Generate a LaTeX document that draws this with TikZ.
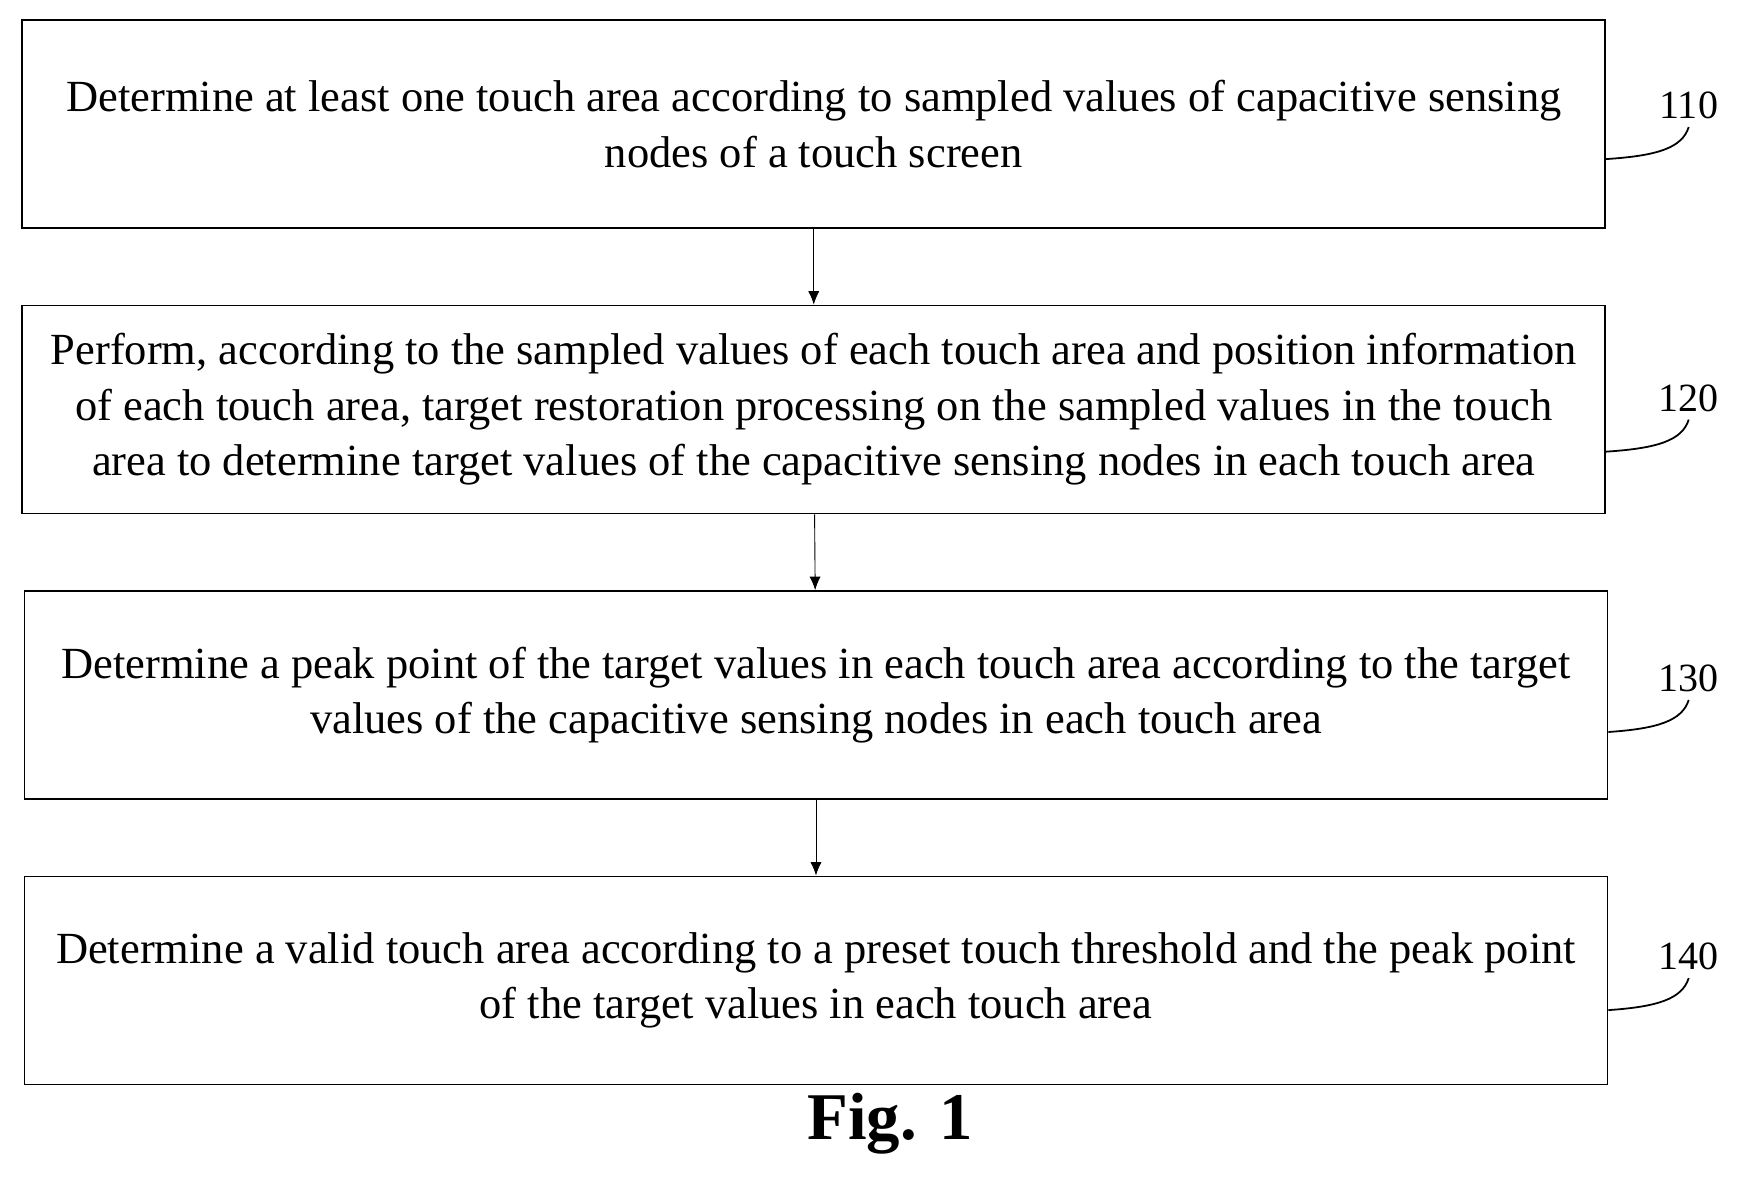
\documentclass[tikz,border=0pt]{standalone}
\usepackage{fontspec}
\setmainfont{Liberation Serif}
\usetikzlibrary{positioning,arrows.meta}
\tikzset{
    block/.style = {draw, rectangle, thick,
        minimum height=93.5pt,
        minimum width=711.5pt, align=center, font=\fontsize{20}{25}\selectfont},
    lbl/.style = {font=\fontsize{18}{20}\selectfont},
    arrow/.style={draw, -{Latex[length=6pt,width=5pt]}}
}
\begin{document}
\begin{tikzpicture}[x=0.5pt,y=-0.5pt,node distance=34pt]
        \useasboundingbox (0,0) rectangle (1565,1058);
        \node [block] at (731.5,111.5) (s110) {Determine at least one touch area according to sampled values of capacitive sensing\\nodes of a touch screen};
        \node [block,below=of s110] (s120) {Perform, according to the sampled values of each touch area and position information\\of each touch area, target restoration processing on the sampled values in the touch\\area to determine target values of the capacitive sensing nodes in each touch area};
        \node [block,below=of s120,xshift=1pt] (s130) {Determine a peak point of the target values in each touch area according to the target\\values of the capacitive sensing nodes in each touch area};
        \node [block,below=of s130] (s140) {Determine a valid touch area according to a preset touch threshold and the peak point\\of the target values in each touch area};
        \draw [arrow] (s110) -- (s120);
        \draw [arrow] (s120) -- (s130);
        \draw [arrow] (s130) -- (s140);
        % step numbers
        \foreach \s/\y in {110/95,120/358,130/610,140/860}{
            \node [lbl] at (1518,\y) (n\s) {\s};
            \draw [thick] (s\s.east|-0,\y+48) .. controls (1490,\y+45) and (1512,\y+38) .. (n\s.south);
        }
        \node [font=\fontsize{30}{30}\selectfont\bfseries] at (800,1010) (fig) {Fig. 1};
\end{tikzpicture}
\end{document}
